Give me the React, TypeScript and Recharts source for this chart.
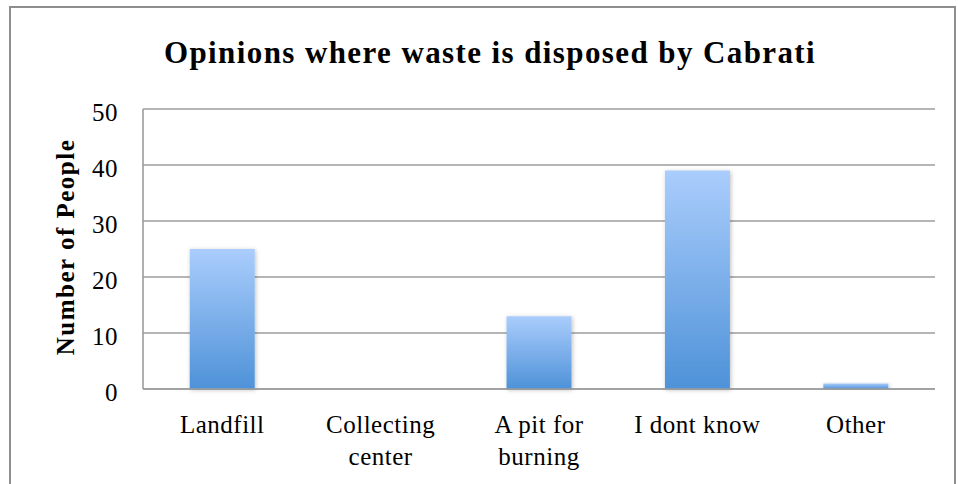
import React from 'react';
import { BarChart, Bar, XAxis, YAxis, CartesianGrid } from 'recharts';

const categories = ['Landfill', 'Collecting\ncenter', 'A pit for\nburning', 'I dont know', 'Other'];
const people = [25, 0, 13, 39, 1];
const yTicks = [0, 10, 20, 30, 40, 50];

const data = categories.map((c, i) => ({ name: c, value: people[i] }));

const FONT = '"Liberation Serif", "DejaVu Serif", serif';
const GRID = '#9c9c9c';

const XTick = (props: any) => {
  const { x, y, payload } = props;
  const lines = String(payload.value).split('\n');
  return (
    <g transform={`translate(${x},${y})`}>
      {lines.map((l, i) => (
        <text key={i} x={0} y={i * 32} dy={24} textAnchor="middle" fill="#000" fontSize={25} letterSpacing={0.5} fontFamily={FONT}>
          {l}
        </text>
      ))}
    </g>
  );
};

const YTick = (props: any) => {
  const { x, y, payload } = props;
  return (
    <text x={x} y={y} dy={12} textAnchor="end" fill="#000" fontSize={25} letterSpacing={0.5} fontFamily={FONT}>
      {payload.value}
    </text>
  );
};

export default function App() {
  return (
    <div style={{ position: 'absolute', left: 0, top: 0, width: 958, height: 484, overflow: 'hidden', background: '#fff' }}>
      <div
        style={{
          position: 'absolute', left: 9, top: 6, width: 947, height: 520,
          border: '2px solid #8e8e8e', boxSizing: 'border-box',
        }}
      />
      <div
        style={{
          position: 'absolute', left: 0, top: 35, width: 980, textAlign: 'center', lineHeight: 1.15,
          fontFamily: FONT, fontWeight: 'bold', fontSize: 31, letterSpacing: 1.4, color: '#000',
        }}
      >
        Opinions where waste is disposed by Cabrati
      </div>
      <div
        style={{
          position: 'absolute', left: 66, top: 247, transform: 'translate(-50%, -50%) rotate(-90deg)',
          whiteSpace: 'nowrap', fontFamily: FONT, fontWeight: 'bold', fontSize: 25, letterSpacing: 1.5, color: '#000',
        }}
      >
        Number of People
      </div>
      <div style={{ position: 'absolute', left: 0, top: 0 }}>
        <BarChart width={958} height={484} data={data} margin={{ top: 109, right: 23, bottom: 0, left: 0 }} barCategoryGap="29.5%">
          <defs>
            <linearGradient id="barGrad" x1="0" y1="0" x2="0" y2="1">
              <stop offset="0%" stopColor="#aacdfc" />
              <stop offset="100%" stopColor="#4e92d8" />
            </linearGradient>
            <filter id="barShadow" x="-20%" y="-10%" width="140%" height="120%">
              <feDropShadow dx="1" dy="1" stdDeviation="2" floodColor="#000" floodOpacity="0.25" />
            </filter>
          </defs>
          <CartesianGrid vertical={false} stroke={GRID} strokeWidth={1.6} />
          <XAxis
            dataKey="name"
            height={95}
            interval={0}
            tickLine={false}
            tickSize={0}
            tickMargin={20}
            axisLine={{ stroke: GRID, strokeWidth: 1.6 }}
            tick={<XTick />}
          />
          <YAxis
            width={143}
            domain={[0, 50]}
            ticks={yTicks}
            interval={0}
            tickLine={false}
            tickSize={0}
            tickMargin={25}
            axisLine={{ stroke: GRID, strokeWidth: 1.6 }}
            tick={<YTick />}
          />
          <Bar dataKey="value" fill="url(#barGrad)" filter="url(#barShadow)" isAnimationActive={false} />
        </BarChart>
      </div>
    </div>
  );
}
